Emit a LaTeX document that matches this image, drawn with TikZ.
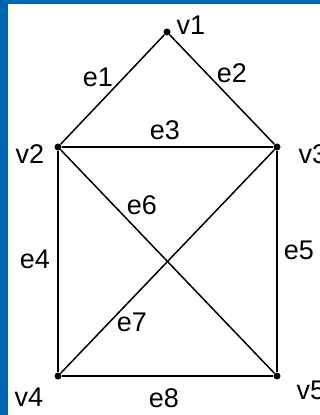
\documentclass[tikz,border=0pt]{standalone}
\usepackage{fontspec}
\setmainfont{Liberation Sans}
\usetikzlibrary{positioning}
\definecolor{frm}{RGB}{0,102,178}
\tikzset{vx/.style={circle,fill=black,inner sep=0pt,minimum size=7pt},
 ed/.style={line width=1.5pt},
 lbl/.style={inner sep=0pt,text=black,font=\fontsize{27}{27}\selectfont}}

\begin{document}
\begin{tikzpicture}[x=1pt,y=-1pt]
\fill[frm] (0,0) rectangle (320,415);
\fill[white] (8,4) rectangle (320,415);
\useasboundingbox (0,0) rectangle (320,415);
% vertices
\node[vx] (v1) at (167,32) {};
\node[vx] (v2) at (58,147) {};
\node[vx] (v3) at (277,147) {};
\node[vx] (v4) at (58,376) {};
\node[vx] (v5) at (277,376) {};
% edges
\draw[ed] (v1)--(v2);\draw[ed] (v1)--(v3);
\draw[ed] (v2)--(v3);\draw[ed] (v2)--(v4);\draw[ed] (v3)--(v5);
\draw[ed] (v2)--(v5);\draw[ed] (v3)--(v4);\draw[ed] (v4)--(v5);
% names
\node[lbl] (n1) at (191,25) {v1};
\node[lbl] (n2) at (30,154) {v2};
\node[lbl] (n3) at (313,154) {v3};
\node[lbl] (n4) at (29,397) {v4};
\node[lbl] (n5) at (311,390) {v5};
\node[lbl] (l1) at (98,77) {e1};
\node[lbl] (l2) at (232,73) {e2};
\node[lbl] (l3) at (165,130) {e3};
\node[lbl] (l4) at (35,259) {e4};
\node[lbl] (l5) at (299,250) {e5};
\node[lbl] (l6) at (142,205) {e6};
\node[lbl] (l7) at (132,322) {e7};
\node[lbl] (l8) at (164,398) {e8};
\end{tikzpicture}
\end{document}
